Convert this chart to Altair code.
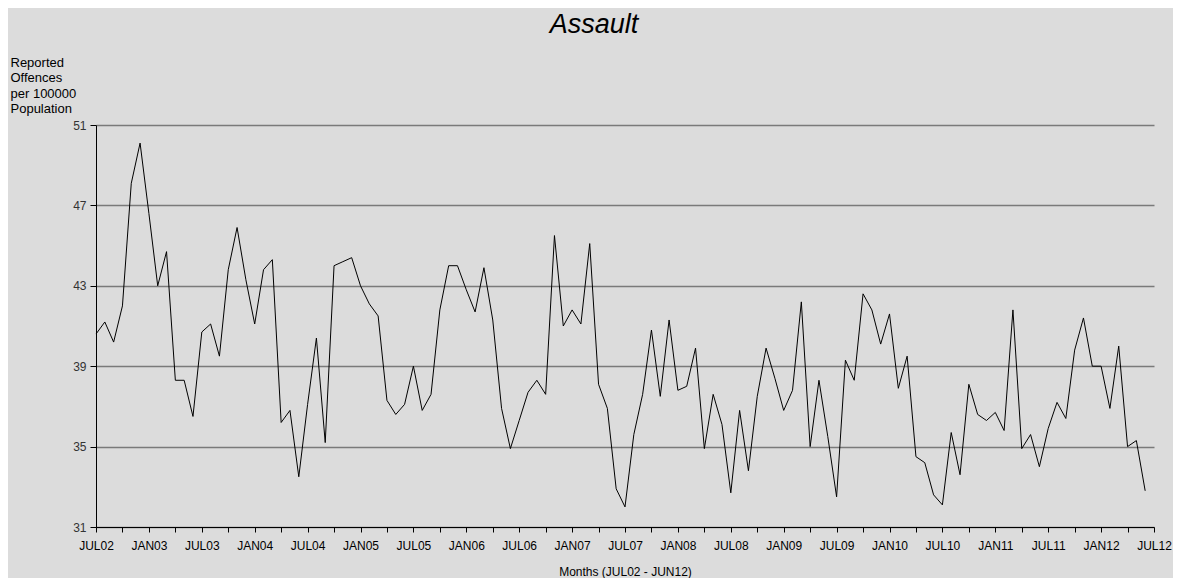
import json
import altair as alt
import pandas as pd

# Monthly index 0 = JUL02 ... 119 = JUN12
month_index = list(range(120))

values = [
    40.6, 41.2, 40.2, 42.0, 48.1, 50.1, 46.6, 43.0, 44.7, 38.3, 38.3, 36.5,
    40.7, 41.1, 39.5, 43.8, 45.9, 43.3, 41.1, 43.8, 44.3, 36.2, 36.8, 33.5,
    37.1, 40.4, 35.2, 44.0, 44.2, 44.4, 43.0, 42.1, 41.5, 37.3, 36.6, 37.1,
    39.0, 36.8, 37.6, 41.8, 44.0, 44.0, 42.8, 41.7, 43.9, 41.3, 36.9, 34.9,
    36.3, 37.7, 38.3, 37.6, 45.5, 41.0, 41.8, 41.1, 45.1, 38.1, 36.9, 32.9,
    32.0, 35.6, 37.6, 40.8, 37.5, 41.3, 37.8, 38.0, 39.9, 34.9, 37.6, 36.1,
    32.7, 36.8, 33.8, 37.5, 39.9, 38.4, 36.8, 37.8, 42.2, 35.0, 38.3, 35.5,
    32.5, 39.3, 38.3, 42.6, 41.8, 40.1, 41.6, 37.9, 39.5, 34.5, 34.2, 32.6,
    32.1, 35.7, 33.6, 38.1, 36.6, 36.3, 36.7, 35.8, 41.8, 34.9, 35.6, 34.0,
    35.9, 37.2, 36.4, 39.8, 41.4, 39.0, 39.0, 36.9, 40.0, 35.0, 35.3, 32.8,
]

tick_labels = [
    "JUL02", "JAN03", "JUL03", "JAN04", "JUL04", "JAN05", "JUL05", "JAN06",
    "JUL06", "JAN07", "JUL07", "JAN08", "JUL08", "JAN09", "JUL09", "JAN10",
    "JUL10", "JAN11", "JUL11", "JAN12", "JUL12",
]

y_ticks = [31, 35, 39, 43, 47, 51]
x_ticks = list(range(0, 121, 3))

df = pd.DataFrame({"m": month_index, "v": values})

label_expr = (
    "datum.value % 6 == 0 ? " + json.dumps(tick_labels) + "[datum.value / 6] : ''"
)

FONT = "Liberation Sans"

chart = (
    alt.Chart(df)
    .mark_line(color="black", strokeWidth=1)
    .encode(
        x=alt.X(
            "m:Q",
            scale=alt.Scale(domain=[0, 120], nice=False, zero=False),
            axis=alt.Axis(
                values=x_ticks,
                labelExpr=label_expr,
                grid=False,
                tickSize=5,
                tickColor="black",
                domainColor="black",
                labelFont=FONT,
                labelFontSize=12,
                labelColor="black",
                labelPadding=8,
                labelFlush=False,
                labelOverlap=False,
                title="Months (JUL02 - JUN12)",
                titleFont=FONT,
                titleFontSize=12,
                titleFontWeight="normal",
                titleColor="black",
                titlePadding=15,
            ),
        ),
        y=alt.Y(
            "v:Q",
            scale=alt.Scale(domain=[31, 51], nice=False, zero=False),
            axis=alt.Axis(
                values=y_ticks,
                grid=True,
                gridColor="#7a7a7a",
                gridWidth=1.5,
                tickSize=6,
                tickColor="black",
                domainColor="black",
                labelFont=FONT,
                labelFontSize=12,
                labelColor="#333333",
                labelPadding=4,
                title=["Reported", "Offences", "per 100000", "Population"],
                titleFont=FONT,
                titleFontSize=13,
                titleFontWeight="normal",
                titleColor="black",
                titleAngle=0,
                titleAlign="left",
                titleBaseline="top",
                titleLineHeight=15.5,
                titleX=-86,
                titleY=-69,
            ),
        ),
    )
    .properties(
        width=1058,
        height=402,
        title=alt.TitleParams(
            "Assault",
            font=FONT,
            fontSize=27,
            fontStyle="italic",
            fontWeight="normal",
            color="black",
            anchor="middle",
            offset=17,
            dx=-31,
        ),
        autosize=alt.AutoSizeParams(type="none"),
        padding={"left": 88, "top": 117, "right": 19, "bottom": 51},
    )
    .configure(background="#dcdcdc")
    .configure_view(stroke=None)
)

chart.save("out.html", embed_options={"renderer": "svg", "actions": False})
